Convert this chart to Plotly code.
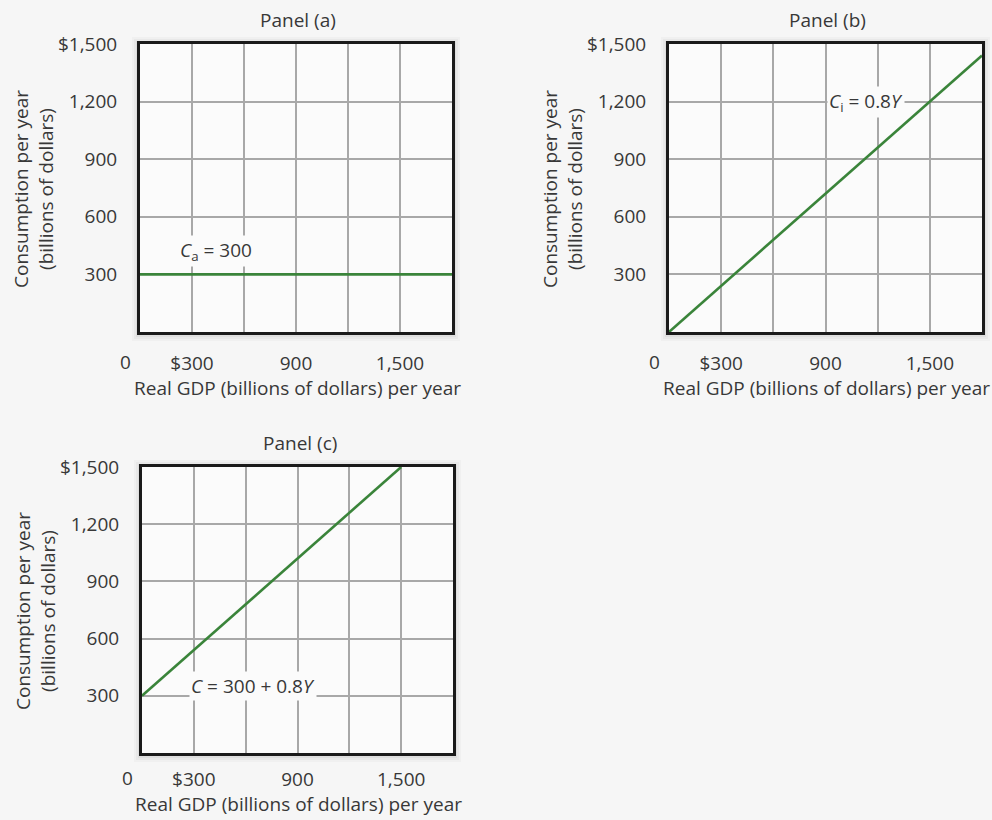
import plotly.graph_objects as go

# ---- data ----
x_tick_vals = [300, 900, 1500]
x_tick_text = ["$300", "900", "1,500"]
x_minor_vals = [600, 1200]
y_tick_vals = [300, 600, 900, 1200, 1500]
y_tick_text = ["300", "600", "900", "1,200", "$1,500"]

# Panel (a): autonomous consumption
a_x = [0, 1800]
a_y = [300, 300]
# Panel (b): induced consumption
b_x = [0, 1800]
b_y = [0, 1440]
# Panel (c): total consumption
c_x = [0, 1500]
c_y = [300, 1500]

panel_titles = ["Panel (a)", "Panel (b)", "Panel (c)"]
x_title = "Real GDP (billions of dollars) per year"
y_title = "Consumption per year<br>(billions of dollars)"

W, H = 992, 820
FONT = "Open Sans"
FS = 19
TXT = "#383838"
GREEN = "#3a843a"
GRID = "#a8a8a8"
PBG = "#fbfbfb"

# pixel boxes (left, right, top, bottom)
boxes = [(140, 452, 44, 332), (669, 982, 44, 332), (142, 453, 467, 753)]
# per-panel offsets for tick labels / x title (px below box bottom)
tick_standoff = [12, 12, 7]
xtitle_off = [56, 56, 51]

def dom(b):
    l, r, t, btm = b
    return [l / W, r / W], [1 - btm / H, 1 - t / H]

fig = go.Figure()
series = [(a_x, a_y), (b_x, b_y), (c_x, c_y)]
for i, (sx, sy) in enumerate(series):
    sfx = "" if i == 0 else str(i + 1)
    fig.add_trace(go.Scatter(x=sx, y=sy, mode="lines",
                             line=dict(color=GREEN, width=2.6),
                             xaxis="x" + sfx, yaxis="y" + sfx,
                             showlegend=False, hoverinfo="skip"))

layout = dict(width=W, height=H, margin=dict(l=0, r=0, t=0, b=0, autoexpand=False),
              paper_bgcolor="#f6f6f6", plot_bgcolor="rgba(0,0,0,0)",
              font=dict(family=FONT, size=FS, color=TXT), showlegend=False)
annotations = []
shapes = []
for i, b in enumerate(boxes):
    sfx = "" if i == 0 else str(i + 1)
    dx, dy = dom(b)
    layout["xaxis" + sfx] = dict(domain=dx, range=[0, 1800], anchor="y" + sfx,
                                 tickvals=x_tick_vals, ticktext=x_tick_text,
                                 minor=dict(tickvals=x_minor_vals, showgrid=True,
                                            gridcolor=GRID, gridwidth=1.5, ticks=""),
                                 showgrid=True, gridcolor=GRID, gridwidth=1.5,
                                 zeroline=False, showline=True, linecolor="#1a1a1a",
                                 linewidth=3, mirror=True, ticks="", automargin=False,
                                 ticklabelstandoff=tick_standoff[i], fixedrange=True,
                                 tickfont=dict(size=FS, color=TXT))
    layout["yaxis" + sfx] = dict(domain=dy, range=[0, 1500], anchor="x" + sfx,
                                 tickvals=y_tick_vals, ticktext=y_tick_text,
                                 showgrid=True, gridcolor=GRID, gridwidth=1.5,
                                 zeroline=False, showline=True, linecolor="#1a1a1a",
                                 linewidth=3, mirror=True, ticks="", automargin=False,
                                 ticklabelstandoff=16, fixedrange=True,
                                 tickfont=dict(size=FS, color=TXT))
    l, r, t, btm = b
    cx = (l + r) / 2
    # soft shadow around the box, then the plot interior
    for k, op in [(8, 0.025), (6, 0.03), (4, 0.04), (2, 0.05)]:
        shapes.append(dict(type="rect", xref="paper", yref="paper", layer="below",
                           x0=(l - k) / W, x1=(r + k) / W,
                           y0=1 - (btm + k + 1) / H, y1=1 - (t - k + 1) / H,
                           line=dict(width=0), fillcolor="rgba(0,0,0,%s)" % op))
    shapes.append(dict(type="rect", xref="paper", yref="paper", layer="below",
                       x0=l / W, x1=r / W, y0=1 - btm / H, y1=1 - t / H,
                       line=dict(width=0), fillcolor=PBG))
    # panel title
    annotations.append(dict(text=panel_titles[i], x=(cx + 2) / W, y=1 - (t - 24) / H,
                            xref="paper", yref="paper", showarrow=False,
                            xanchor="center", yanchor="middle", font=dict(size=FS)))
    # x-axis title
    annotations.append(dict(text=x_title, x=(cx + 1) / W, y=1 - (btm + xtitle_off[i]) / H,
                            xref="paper", yref="paper", showarrow=False,
                            xanchor="center", yanchor="middle", font=dict(size=FS)))
    # y-axis title
    annotations.append(dict(text=y_title, x=(l - 107) / W, y=1 - ((t + btm) / 2 + 1) / H,
                            xref="paper", yref="paper", showarrow=False, textangle=-90,
                            xanchor="center", yanchor="middle", font=dict(size=FS)))
    # origin "0"
    annotations.append(dict(text="0", x=0, y=0, xref="x" + sfx, yref="y" + sfx,
                            showarrow=False, xanchor="center", yanchor="middle",
                            xshift=-15, yshift=-(tick_standoff[i] + 18), font=dict(size=FS)))

# curve labels
annotations.append(dict(text="<i>C</i><sub>a</sub> = 300", x=440, y=420, xref="x", yref="y",
                        showarrow=False, bgcolor=PBG, font=dict(size=FS)))
annotations.append(dict(text="<i>C</i><sub>i</sub> = 0.8<i>Y</i>", x=1135, y=1200, xref="x2", yref="y2",
                        showarrow=False, bgcolor=PBG, font=dict(size=FS)))
annotations.append(dict(text="<i>C</i> = 300 + 0.8<i>Y</i>", x=640, y=350, xref="x3", yref="y3",
                        showarrow=False, bgcolor=PBG, font=dict(size=FS)))

layout["annotations"] = annotations
layout["shapes"] = shapes
fig.update_layout(**layout)
fig.write_html("out.html", config={"displayModeBar": False},
               post_script="document.body.style.margin='0';document.body.style.overflow='hidden';")
